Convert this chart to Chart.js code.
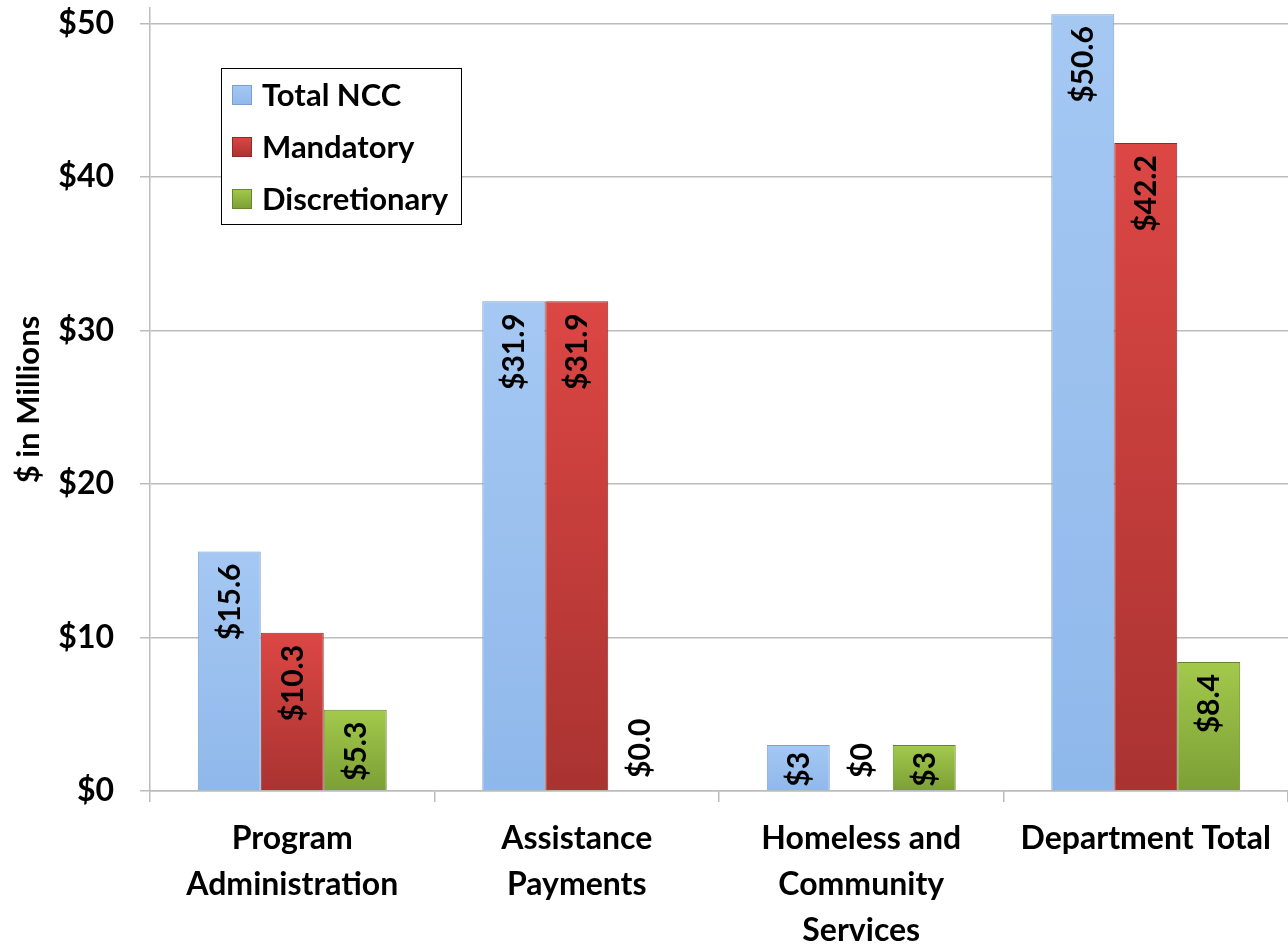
<!DOCTYPE html>
<html>
<head>
<meta charset="utf-8">
<script src="https://cdn.jsdelivr.net/npm/chart.js@4.4.1/dist/chart.umd.min.js"></script>
<style>
  html, body { margin: 0; padding: 0; background: #ffffff; }
  #wrap { width: 1288px; height: 946px; }
</style>
</head>
<body>
<div id="wrap"><canvas id="ncc" width="1288" height="946"></canvas></div>
<script>
/* ---------- data ---------- */
const categories    = [["Program", "Administration"], ["Assistance", "Payments"],
                       ["Homeless and", "Community", "Services"], "Department Total"];
const totalNCC      = [15.6, 31.9, 3, 50.6];
const mandatory     = [10.3, 31.9, 0, 42.2];
const discretionary = [5.3, 0.0, 3, 8.4];
const labelDecimals = [1, 1, 0, 1];     // how each group's value labels are written
const yTicks        = [0, 10, 20, 30, 40, 50];

const FONT = "Lato, 'Open Sans', sans-serif";
const GRID = "#bcbcbc";

// top/bottom colours per series, plus the thin edge
const palette = [
  { top: "#a5c8f3", bottom: "#8fb8ea", edge: "#7d9fcf" },
  { top: "#dc4744", bottom: "#a93331", edge: "#8e2b2a" },
  { top: "#a3c94c", bottom: "#7c9f35", edge: "#66852b" }
];

function barFill(i){
  return ctx => {
    const chart = ctx.chart;
    const area  = chart.chartArea;
    if (!area || ctx.type !== "data") return palette[i].bottom;
    const y    = chart.scales.y;
    const top  = y.getPixelForValue(ctx.raw);
    const base = y.getPixelForValue(0);
    if (Math.abs(base - top) < 1) return palette[i].bottom;
    const g = chart.ctx.createLinearGradient(0, top, 0, base);
    g.addColorStop(0, palette[i].top);
    g.addColorStop(1, palette[i].bottom);
    return g;
  };
}

/* ---------- value labels, rotated inside the bar tops ---------- */
const valueLabels = {
  id: "valueLabels",
  afterDatasetsDraw(chart){
    const c = chart.ctx;
    chart.data.datasets.forEach((ds, di) => {
      chart.getDatasetMeta(di).data.forEach((bar, j) => {
        const v   = ds.data[j];
        const txt = "$" + v.toFixed(labelDecimals[j]);
        c.save();
        c.font = "bold 30px " + FONT;
        c.fillStyle = "#000";
        c.textBaseline = "middle";
        if (v > 0.5) {
          const gap = (bar.base - bar.y) > 80 ? 12 : 7;
          c.translate(bar.x + 1, bar.y + gap);
          c.rotate(-Math.PI / 2);
          c.textAlign = "right";
        } else {
          c.translate(bar.x + 1, bar.base - 13);
          c.rotate(-Math.PI / 2);
          c.textAlign = "left";
        }
        c.fillText(txt, 0, 0);
        c.restore();
      });
    });
  }
};

/* ---------- boxed legend sitting inside the plot ---------- */
const boxLegend = {
  id: "boxLegend",
  afterDraw(chart){
    const c = chart.ctx;
    const x = 221, y = 68, w = 240, h = 156;
    c.save();
    c.fillStyle = "#fff";
    c.fillRect(x, y, w, h);
    c.strokeStyle = "#000";
    c.lineWidth = 1;
    c.strokeRect(x + 0.5, y + 0.5, w, h);
    c.font = "bold 31px " + FONT;
    c.textBaseline = "middle";
    chart.data.datasets.forEach((ds, i) => {
      const cy = 95 + i * 52;
      const g = c.createLinearGradient(0, cy - 10, 0, cy + 10);
      g.addColorStop(0, palette[i].top);
      g.addColorStop(1, palette[i].bottom);
      c.fillStyle = g;
      c.fillRect(232, cy - 10, 20, 20);
      c.strokeStyle = palette[i].edge;
      c.strokeRect(232.5, cy - 9.5, 19, 19);
      c.fillStyle = "#000";
      c.fillText(ds.label, 262, cy + 1);
    });
    c.restore();
  }
};

const datasets = [
  { label: "Total NCC",     data: totalNCC },
  { label: "Mandatory",     data: mandatory },
  { label: "Discretionary", data: discretionary }
].map((d, i) => Object.assign(d, {
  backgroundColor: barFill(i),
  borderColor: palette[i].edge,
  borderWidth: 1,
  categoryPercentage: 0.664,
  barPercentage: 1.0
}));

new Chart(document.getElementById("ncc"), {
  type: "bar",
  data: { labels: categories, datasets },
  options: {
    responsive: false,
    animation: false,
    layout: { autoPadding: false, padding: { top: 8, right: -2, left: 0, bottom: 0 } },
    plugins: {
      legend: { display: false },
      tooltip: { enabled: false }
    },
    scales: {
      x: {
        grid: { drawOnChartArea: false, drawTicks: true, tickLength: 11, color: GRID, lineWidth: 1.5 },
        border: { color: GRID, width: 1.5 },
        ticks: {
          color: "#000",
          padding: 13,
          maxRotation: 0,
          autoSkip: false,
          font: { family: FONT, weight: "bold", size: 32, lineHeight: 1.45 }
        },
        afterFit(scale){
          scale.height = 155;
          scale.paddingLeft = 0;
          scale.paddingRight = 0;
        }
      },
      y: {
        min: 0,
        max: 51,
        afterBuildTicks(scale){ scale.ticks = yTicks.map(v => ({ value: v })); },
        grid: { color: GRID, lineWidth: 1.5, tickLength: 10 },
        border: { color: GRID, width: 1.5 },
        ticks: {
          color: "#000",
          padding: 26,
          font: { family: FONT, weight: "bold", size: 32 },
          callback: v => "$" + v
        },
        title: {
          display: true,
          text: "$ in Millions",
          color: "#000",
          padding: { top: 10, bottom: 0 },
          font: { family: FONT, weight: "bold", size: 31 }
        },
        afterFit(scale){
          scale.width = 150;
          scale.paddingTop = 0;
          scale.paddingBottom = 0;
        }
      }
    }
  },
  plugins: [valueLabels, boxLegend]
});
</script>
</body>
</html>
